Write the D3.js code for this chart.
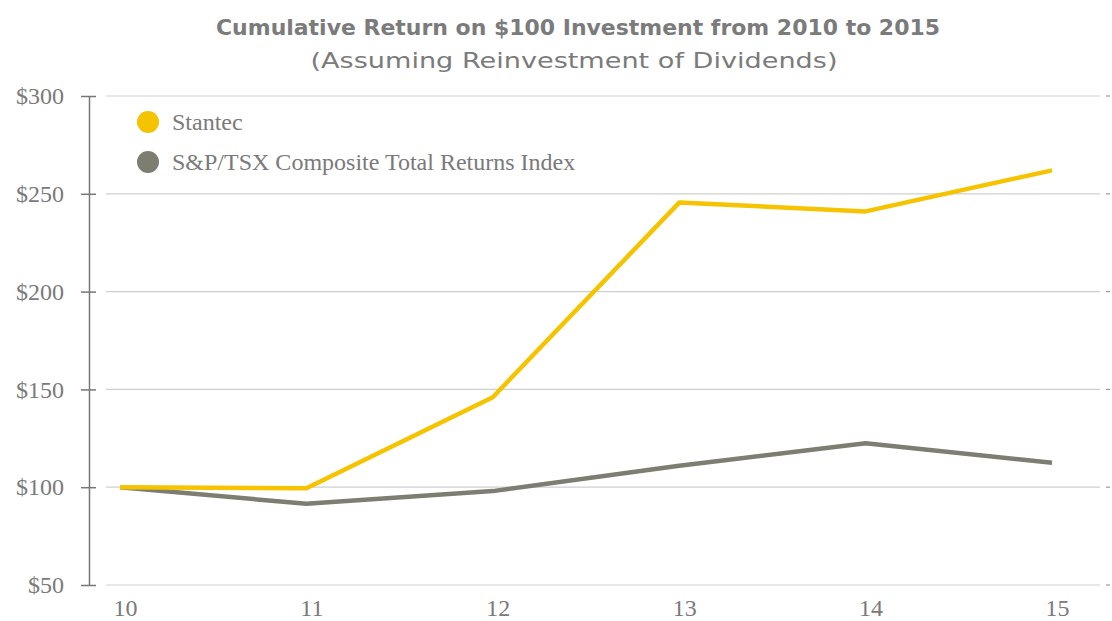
<!DOCTYPE html>
<html>
<head>
<meta charset="utf-8">
<script src="https://cdn.jsdelivr.net/npm/d3@7"></script>
<style>
  body { margin: 0; background: #fff; }
</style>
</head>
<body>
<div id="chart"></div>
<script>
var years = ["10", "11", "12", "13", "14", "15"];
var stantec = [100, 99.5, 146, 245.5, 241, 262];
var tsx = [100, 91.5, 98, 111, 122.5, 112.5];
var yTicks = [50, 100, 150, 200, 250, 300];
var seriesNames = ["Stantec", "S&P/TSX Composite Total Returns Index"];
var seriesColors = ["#f6c300", "#7d7d72"];

var width = 1112, height = 621;
var serif = "'Liberation Serif', 'Times New Roman', serif";
var gray = "#7a7a7a";

var svg = d3.select("#chart").append("svg")
  .attr("width", width)
  .attr("height", height);

// titles
svg.append("text")
  .attr("x", 578).attr("y", 35)
  .attr("text-anchor", "middle")
  .attr("font-family", "'DejaVu Sans', sans-serif")
  .attr("font-weight", "bold")
  .attr("font-size", 21)
  .attr("fill", "#7b7b7b")
  .attr("textLength", 724)
  .attr("lengthAdjust", "spacingAndGlyphs")
  .text("Cumulative Return on $100 Investment from 2010 to 2015");

svg.append("text")
  .attr("x", 574).attr("y", 68)
  .attr("text-anchor", "middle")
  .attr("font-family", "'DejaVu Sans', sans-serif")
  .attr("font-size", 21)
  .attr("fill", "#7b7b7b")
  .attr("textLength", 527)
  .attr("lengthAdjust", "spacingAndGlyphs")
  .text("(Assuming Reinvestment of Dividends)");

var x = d3.scalePoint()
  .domain(years)
  .range([120, 1052]);

var y = d3.scaleLinear()
  .domain([50, 300])
  .range([585, 96]);

// gridlines
svg.selectAll("line.grid")
  .data(yTicks)
  .enter().append("line")
  .attr("class", "grid")
  .attr("x1", 106).attr("x2", 1100)
  .attr("y1", d => y(d)).attr("y2", d => y(d))
  .attr("stroke", "#cfcfcf")
  .attr("stroke-width", 1.2);

// small right tick marks
svg.selectAll("line.rtick")
  .data(yTicks)
  .enter().append("line")
  .attr("class", "rtick")
  .attr("x1", 1106).attr("x2", 1110)
  .attr("y1", d => y(d)).attr("y2", d => y(d))
  .attr("stroke", "#9a9a9a")
  .attr("stroke-width", 1.2);

// y axis
var yAxis = d3.axisLeft(y)
  .tickValues(yTicks)
  .tickSize(0)
  .tickFormat(d => "$" + d);

var yg = svg.append("g")
  .attr("transform", "translate(89,0)")
  .call(yAxis);
yg.select(".domain").attr("stroke", "#777").attr("stroke-width", 1.5);
yg.selectAll(".tick line").remove();
yg.selectAll(".tick").append("line")
  .attr("x1", -8).attr("x2", 7)
  .attr("stroke", "#777").attr("stroke-width", 1.5);
yg.selectAll(".tick text")
  .attr("x", -25)
  .attr("dy", "0.32em")
  .attr("font-size", 24)
  .style("font-family", serif)
  .style("fill", gray);

// x axis
var xAxis = d3.axisBottom(x).tickSize(0).tickPadding(0);
var xg = svg.append("g")
  .attr("transform", "translate(5,0)")
  .call(xAxis);
xg.select(".domain").remove();
xg.selectAll(".tick text")
  .attr("y", 616)
  .attr("dy", 0)
  .attr("font-size", 24)
  .style("font-family", serif)
  .style("fill", gray);

// lines
var line = d3.line()
  .x((d, i) => x(years[i]))
  .y(d => y(d));

[tsx, stantec].forEach(function(series, k) {
  svg.append("path")
    .datum(series)
    .attr("d", line)
    .attr("fill", "none")
    .attr("stroke", k == 0 ? seriesColors[1] : seriesColors[0])
    .attr("stroke-width", 4.5)
    .attr("stroke-linejoin", "round");
});

// legend
var legend = svg.selectAll("g.legend")
  .data(seriesNames)
  .enter().append("g")
  .attr("class", "legend")
  .attr("transform", (d, i) => "translate(148," + (122 + i * 40) + ")");

legend.append("circle")
  .attr("r", 11)
  .attr("fill", (d, i) => seriesColors[i]);

legend.append("text")
  .attr("x", 24)
  .attr("dy", "0.33em")
  .attr("font-size", 24)
  .style("font-family", serif)
  .style("fill", gray)
  .text(d => d);
</script>
</body>
</html>
